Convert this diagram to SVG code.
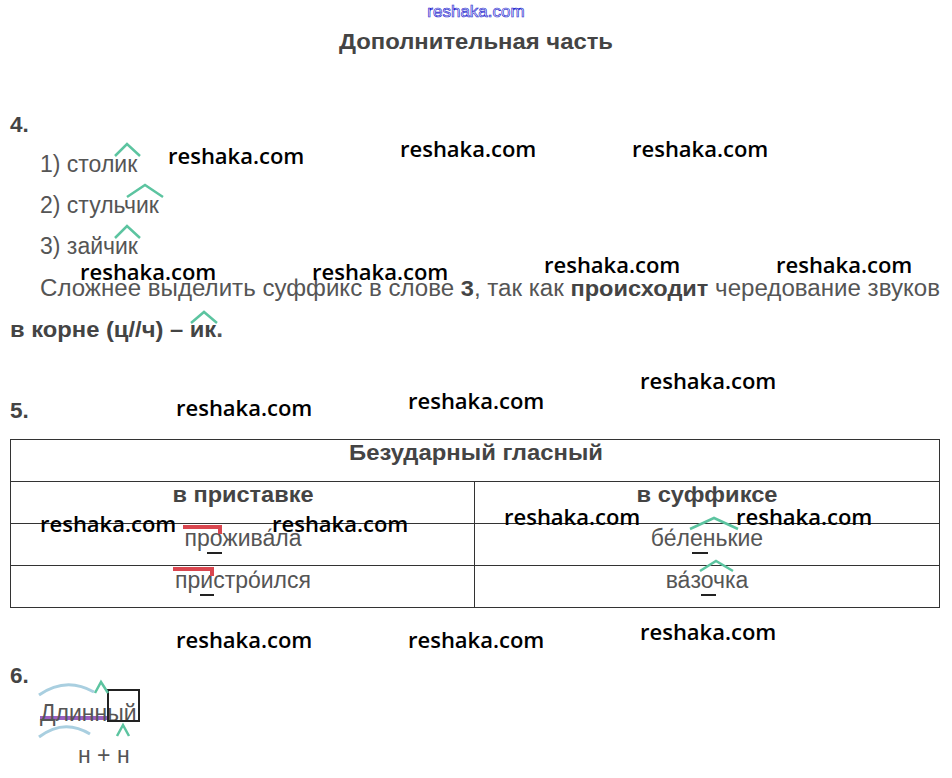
<svg xmlns="http://www.w3.org/2000/svg" width="952" height="778" viewBox="0 0 952 778">
<style>
.r{font-family:"Liberation Sans",Arial,sans-serif;font-size:23px;fill:#555}
.b{font-family:"Liberation Sans",Arial,sans-serif;font-size:22.5px;font-weight:bold;fill:#444}
.w{font-family:"Open Sans","Noto Sans",sans-serif;font-size:22px;font-weight:600;fill:#000}
.c{fill:none;stroke:#5cc4a0;stroke-width:2.5}
.red{fill:none;stroke:#d9464f;stroke-width:4}
.ul{stroke:#222;stroke-width:2}
.t{stroke:#333;stroke-width:1;fill:none}
.arc{fill:none;stroke:#a9cfe0;stroke-width:3}
</style>
<rect width="952" height="778" fill="#fff"/>
<text x="476" y="17" text-anchor="middle" font-family="Liberation Sans,Arial,sans-serif" font-size="17" fill="#fff" stroke="#2a2ad0" stroke-width="0.7">reshaka.com</text>
<text x="476" y="49" text-anchor="middle" class="b" textLength="274" lengthAdjust="spacingAndGlyphs">Дополнительная часть</text>

<text x="10" y="132" class="b">4.</text>
<text x="40" y="172" class="r">1) столик</text>
<text x="40" y="213" class="r">2) стульчик</text>
<text x="40" y="254" class="r">3) зайчик</text>
<polyline class="c" points="115,156 127,144 140,156"/>
<polyline class="c" points="127,197 145,185 163,197"/>
<polyline class="c" points="115,238 127,226 140,238"/>
<text x="40" y="296" class="r" textLength="900" lengthAdjust="spacingAndGlyphs">Сложнее выделить суффикс в слове <tspan class="b" font-size="23">3</tspan>, так как <tspan class="b" font-size="23">происходит</tspan> чередование звуков</text>
<text x="10" y="337" class="b" textLength="213" lengthAdjust="spacingAndGlyphs">в корне (ц//ч) – ик<tspan class="r">.</tspan></text>
<polyline class="c" points="191,323 204,312 217,323"/>

<text x="10" y="418" class="b">5.</text>
<rect x="10.5" y="439.5" width="929" height="168" class="t"/>
<line x1="10" y1="481.5" x2="940" y2="481.5" class="t"/>
<line x1="10" y1="523.5" x2="940" y2="523.5" class="t"/>
<line x1="10" y1="565.5" x2="940" y2="565.5" class="t"/>
<line x1="474.5" y1="481" x2="474.5" y2="607" class="t"/>
<text x="476" y="460" text-anchor="middle" class="b" textLength="254" lengthAdjust="spacingAndGlyphs">Безударный гласный</text>
<text x="243" y="502" text-anchor="middle" class="b" textLength="141" lengthAdjust="spacingAndGlyphs">в приставке</text>
<text x="707" y="502" text-anchor="middle" class="b" textLength="141" lengthAdjust="spacingAndGlyphs">в суффиксе</text>
<text x="243" y="546" text-anchor="middle" class="r">прожива́ла</text>
<text x="243" y="588" text-anchor="middle" class="r">пристро́ился</text>
<text x="707" y="546" text-anchor="middle" class="r">бе́ленькие</text>
<text x="707" y="588" text-anchor="middle" class="r">ва́зочка</text>
<polyline class="red" points="183,527 220,527 220,534"/>
<polyline class="red" points="173,569 212,569 212,576"/>
<line class="ul" x1="207" y1="553" x2="222" y2="553"/>
<line class="ul" x1="200" y1="595" x2="214" y2="595"/>
<line class="ul" x1="692" y1="553" x2="708" y2="553"/>
<line class="ul" x1="701" y1="595" x2="716" y2="595"/>
<polyline class="c" points="690,529 714,518 738,529"/>
<polyline class="c" points="700,571 716,561 733,571"/>

<text x="10" y="683" class="b">6.</text>
<path class="arc" d="M39,695 Q66,676 94,692"/>
<path class="arc" d="M39,737 Q64,718 90,734"/>
<line x1="40" y1="718" x2="108" y2="718" stroke="#9b5fc0" stroke-width="4"/>
<text x="40" y="721" class="r">Длинный</text>
<rect x="108" y="690" width="31" height="31" fill="none" stroke="#222" stroke-width="2"/>
<polyline class="c" points="95,693 101,682 108,693"/>
<polyline class="c" points="117,736 123,725 129,736"/>
<text x="78" y="763" class="r" font-size="21">н + н</text>

<g class="w">
<text x="168" y="164">reshaka.com</text>
<text x="400" y="157">reshaka.com</text>
<text x="632" y="157">reshaka.com</text>
<text x="80" y="280">reshaka.com</text>
<text x="312" y="280">reshaka.com</text>
<text x="544" y="273">reshaka.com</text>
<text x="776" y="273">reshaka.com</text>
<text x="640" y="389">reshaka.com</text>
<text x="176" y="416">reshaka.com</text>
<text x="408" y="409">reshaka.com</text>
<text x="40" y="532">reshaka.com</text>
<text x="272" y="532">reshaka.com</text>
<text x="504" y="525">reshaka.com</text>
<text x="736" y="525">reshaka.com</text>
<text x="176" y="648">reshaka.com</text>
<text x="408" y="648">reshaka.com</text>
<text x="640" y="640">reshaka.com</text>
</g>
</svg>
